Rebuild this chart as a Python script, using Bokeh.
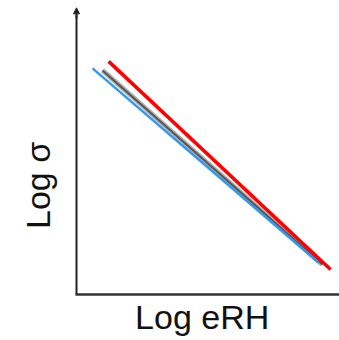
from bokeh.plotting import figure
from bokeh.models import Range1d, Arrow, NormalHead
from bokeh.core.properties import value
from bokeh.embed import file_html
from bokeh.resources import INLINE

# data (arbitrary log units; axis origin at 0,0)
red_x = [1.22, 9.66]
red_y = [7.93, 0.85]
blue_x = [0.61, 9.20]
blue_y = [7.69, 1.09]
gray_x = [0.99, 9.35]
gray_y = [7.62, 1.02]
x_label = "Log eRH"
y_label = "Log σ"

p = figure(width=339, height=340, output_backend="svg", toolbar_location=None,
           x_range=Range1d(-2.89, 10.0), y_range=Range1d(-1.565, 10.0),
           min_border=0)
p.axis.visible = False
p.grid.visible = False
p.outline_line_color = None
p.background_fill_color = "white"
p.border_fill_color = "white"

# axes
p.line([0, 0], [0, 9.5], line_color="#222222", line_width=2)
p.add_layout(Arrow(end=NormalHead(size=6, fill_color="#222222", line_color="#222222"),
                   x_start=0, y_start=9.4, x_end=0, y_end=9.75,
                   line_color="#222222", line_width=2))
p.line([-0.04, 10.0], [0, 0], line_color="#333333", line_width=2.5)

# lines
p.line(gray_x, gray_y, line_color="#b0b0b0", line_width=5)
p.line(gray_x, gray_y, line_color="#555555", line_width=2)
p.line(blue_x, blue_y, line_color="#3399f0", line_width=2.5)
p.line(red_x, red_y, line_color="#ff0000", line_width=3.5)

# labels
p.text(x=[4.78], y=[-0.75], text=[x_label], text_font=value("Liberation Sans"),
       text_font_size="34px", text_align="center", text_baseline="alphabetic",
       text_color="#111111")
p.text(x=[-1.47], y=[3.71], text=[y_label], angle=1.5708,
       text_font=value("Liberation Sans"), text_font_size="34px",
       text_align="center", text_baseline="alphabetic", text_color="#111111")

open("out.html", "w").write(file_html(p, INLINE))
